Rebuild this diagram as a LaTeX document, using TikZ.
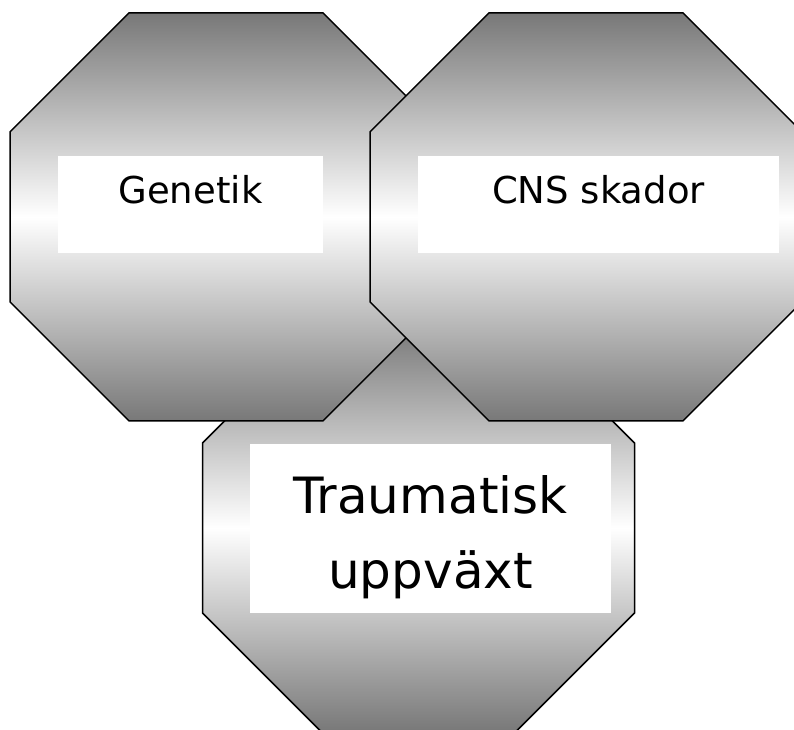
\documentclass[tikz,border=0pt]{standalone}
\usepackage{fontspec}
\setmainfont{DejaVu Sans}
\definecolor{octgray}{RGB}{120,120,120}
\newcommand\myoct[2]{%
  \path[oct] (#1-97,#2-204) -- (#1+97,#2-204) -- (#1+216,#2-85) -- (#1+216,#2+85)
    -- (#1+97,#2+204) -- (#1-97,#2+204) -- (#1-216,#2+85) -- (#1-216,#2-85) -- cycle;}
\begin{document}
\begin{tikzpicture}[x=1pt,y=-1pt,
  oct/.style={draw=black, line width=1.5pt, line join=miter,
    top color=octgray, bottom color=octgray, middle color=white},
  tbox/.style={fill=white, inner sep=0pt}]
\useasboundingbox (0,0) rectangle (794,729);
\fill[white] (0,0) rectangle (794,729);
\begin{scope}
\clip (0,0) rectangle (794,729);
% bottom octagon (behind)
\myoct{418.5}{528}
% left octagon
\myoct{226}{216.9}
% right octagon (front)
\myoct{586}{216.9}
\end{scope}
\node[tbox] (genetik) at (190.5,204.5)
  {\parbox[c][97pt][t]{265pt}{\centering\fontsize{37}{44}\selectfont\rule{0pt}{47pt}Genetik}};
\node[tbox] (cns) at (598.5,204.5)
  {\parbox[c][97pt][t]{361pt}{\centering\fontsize{37}{44}\selectfont\rule{0pt}{47pt}CNS skador}};
\node[tbox] (trauma) at (430.5,528.5)
  {\parbox[c][169pt][t]{361pt}{\centering\fontsize{50}{75}\selectfont\rule{0pt}{69pt}Traumatisk\\uppväxt}};
\end{tikzpicture}
\end{document}
